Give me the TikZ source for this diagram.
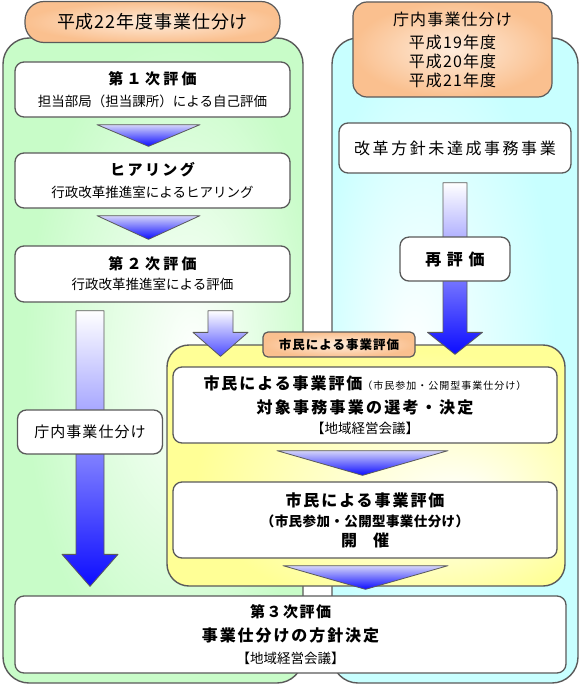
\documentclass[tikz,border=0pt]{standalone}
\usepackage{fontspec}
\setmainfont{Noto Sans CJK JP}
\usetikzlibrary{calc}
\definecolor{greenp}{RGB}{200,252,200}
\definecolor{cyanp}{RGB}{200,255,255}
\definecolor{yellowp}{RGB}{255,255,150}
\definecolor{orangep}{RGB}{250,192,143}
\definecolor{orangei}{RGB}{254,236,220}
\definecolor{edgec}{RGB}{90,90,90}
\definecolor{tritop}{RGB}{212,212,250}
\definecolor{deepblue}{RGB}{12,12,255}
\definecolor{arrmid}{RGB}{180,180,255}
\pgfdeclareradialshading{greenshade}{\pgfpoint{7bp}{0bp}}{color(0bp)=(white); color(25bp)=(greenp); color(50bp)=(greenp)}
\pgfdeclareradialshading{cyanshade}{\pgfpoint{-9bp}{0bp}}{color(0bp)=(white); color(25bp)=(cyanp); color(50bp)=(cyanp)}
\pgfdeclareradialshading{yellowshade}{\pgfpoint{12bp}{-7bp}}{color(0bp)=(white); color(27bp)=(yellowp); color(50bp)=(yellowp)}
\newcommand{\hd}[2]{\fontsize{#1}{20}\selectfont\bfseries\addfontfeature{LetterSpace=#2}}
\newcommand{\blockarrow}[6][]{\draw[arr,#1] ($(#2)+(-#4,0)$) -- ($(#2)+(#4,0)$) -- ($(#3)+(#4,-#6)$) -- ($(#3)+(#5,-#6)$) -- (#3) -- ($(#3)+(-#5,-#6)$) -- ($(#3)+(-#4,-#6)$) -- cycle;}
\begin{document}
\begin{tikzpicture}[x=1pt,y=-1pt,line join=round,
	panel/.style={draw=edgec,line width=1.4pt,rounded corners=26pt},
	title/.style={draw=edgec,line width=1.2pt,inner color=orangei,outer color=orangep,align=center,inner sep=0pt},
	box/.style={draw=edgec,line width=1.3pt,fill=white,rounded corners=9pt,align=center,inner sep=0pt,font=\fontsize{13.5}{20}\selectfont},
	tri/.style={draw=edgec,line width=0.8pt,top color=tritop,bottom color=deepblue},
	arr/.style={draw=edgec,line width=0.8pt}]
	\useasboundingbox[fill=white] (0,0) rectangle (582,685);
	% panels
	\draw[panel,shading=greenshade] (3,38) rectangle (303,683);
	\draw[panel,shading=cyanshade] (332,38) rectangle (578,683);
	\node[title,rounded corners=19pt,minimum width=255pt,minimum height=41pt,font=\fontsize{18}{20}\selectfont\addfontfeature{LetterSpace=5}] (t1) at (152.5,22) {平成22年度事業仕分け};
	\node[title,rounded corners=14pt,minimum width=199pt,minimum height=95pt,font=\fontsize{16}{19}\selectfont\addfontfeature{LetterSpace=7}] (t2) at (452.5,49.5) {庁内事業仕分け\\[4pt]平成19年度\\平成20年度\\平成21年度};
	% left column
	\node[box,minimum width=275pt,minimum height=55pt] (k1) at (152.5,89.5) {{\hd{15}{22}第１次評価}\\[2pt]担当部局（担当課所）による自己評価};
	\node[box,minimum width=275pt,minimum height=55pt] (k2) at (152.5,180.5) {{\hd{15}{16}ヒアリング}\\[2pt]行政改革推進室によるヒアリング};
	\node[box,minimum width=275pt,minimum height=56pt] (k3) at (152.5,274) {{\hd{15}{22}第２次評価}\\行政改革推進室による評価};
	% right column
	\node[box,minimum width=232pt,minimum height=50pt,font=\fontsize{16}{20}\selectfont\addfontfeature{LetterSpace=16}] (k5) at (455,148) {改革方針未達成事務事業};
	% citizens
	\draw[panel,rounded corners=22pt,shading=yellowshade] (167,345) rectangle (565,586);
	\node[box,minimum width=384pt,minimum height=76pt] (k4) at (365,405) {{\hd{16}{12}市民による事業評価}{\fontsize{10}{12}\selectfont\addfontfeature{LetterSpace=10}（市民参加・公開型事業仕分け）}\\[4pt]{\hd{16}{14}対象事務事業の選考・決定}\\【地域経営会議】};
	\node[box,minimum width=384pt,minimum height=76pt] (k6n) at (365,520) {{\hd{16}{12}市民による事業評価}\\{\hd{13.5}{3}（市民参加・公開型事業仕分け）}\\{\hd{16}{0}開　催}};
	\node[box,minimum width=551pt,minimum height=77pt] (k6) at (290.5,634.5) {{\hd{15}{10}第３次評価}\\[4pt]{\hd{16}{12}事業仕分けの方針決定}\\[2pt]【地域経営会議】};
	\node[title,rounded corners=5pt,minimum width=152pt,minimum height=25pt,font=\fontsize{12.5}{14}\selectfont\bfseries\addfontfeature{LetterSpace=8}] (tab) at (339,344.5) {市民による事業評価};
	% triangles
	\foreach \a/\b/\w/\dx in {k1/k2/51.5/-4, k2/k3/51.5/-4, k4/k6n/85.5/-2.5, k6n/k6/82.5/0.5}
		\draw[tri] ($(\a.south)+(\dx-\w,7)$) -- ($(\a.south)+(\dx+\w,7)$) -- ($(\a.south |- \b.north)+(\dx,-6)$) -- cycle;
	% arrows
	\path ([xshift=-62.5pt]k3.south) ++(0,8) coordinate (a1);
	\path (a1 |- k6.north) ++(0,-9) coordinate (a2);
	\path ([xshift=68pt]k3.south) ++(0,8) coordinate (a3);
	\path (a3 |- k4.north) ++(0,-10) coordinate (a4);
	\path (k5.south) ++(0,9) coordinate (a5);
	\path (a5 |- k4.north) ++(0,-12) coordinate (a6);
	\blockarrow[top color=white,middle color=arrmid,bottom color=deepblue]{a1}{a2}{14}{28}{32}
	\blockarrow[top color=white,middle color=blue!22!white,bottom color=blue!70!white]{a3}{a4}{12.5}{27.5}{24}
	\blockarrow[top color=white,middle color=arrmid,bottom color=deepblue]{a5}{a6}{12}{27.5}{22}
	\node[box,minimum width=145pt,minimum height=44pt,font=\fontsize{15}{20}\selectfont\addfontfeature{LetterSpace=7}] (lab1) at ($(a1)!0.44!(a2)$) {庁内事業仕分け};
	\node[box,minimum width=110pt,minimum height=44pt] (lab2) at ($(a5)!0.445!(a6)$) {{\hd{16}{35}再評価}};
\end{tikzpicture}
\end{document}
